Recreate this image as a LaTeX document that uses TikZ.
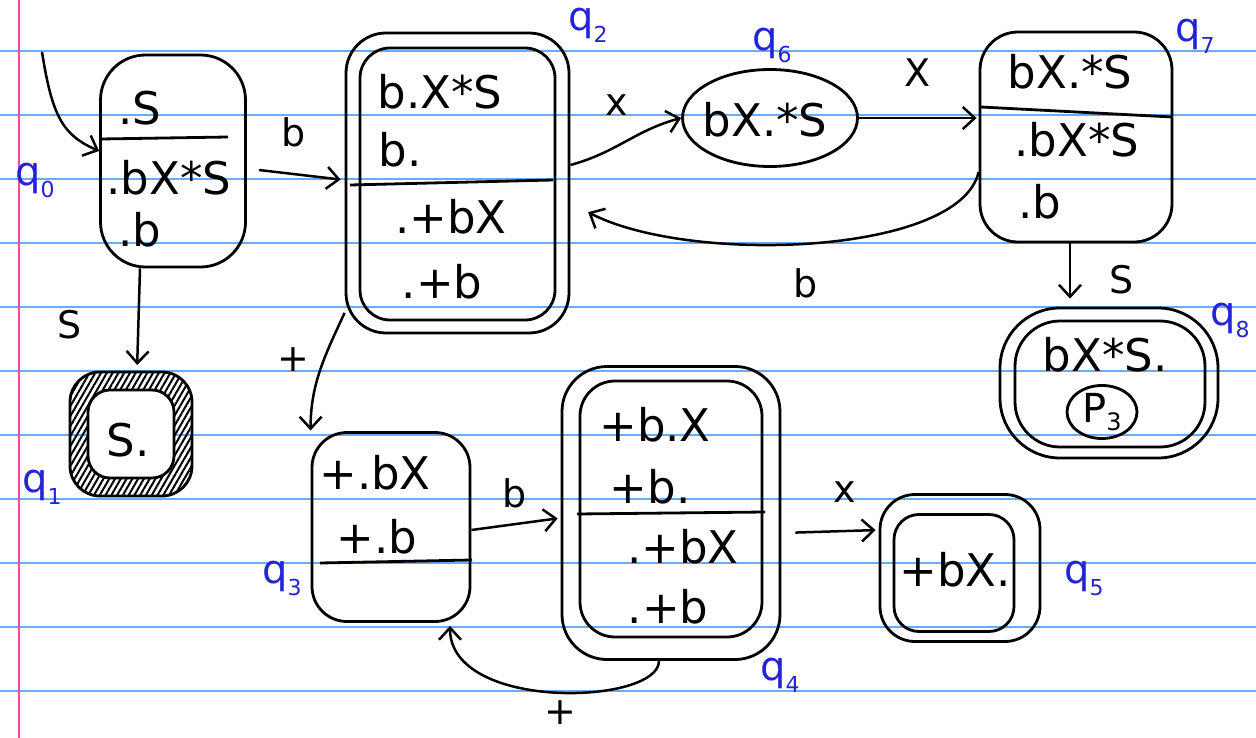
\documentclass[tikz,border=0pt]{standalone}
\usepackage{fontspec}
\setmainfont{DejaVu Sans}
\usetikzlibrary{arrows.meta,shapes.geometric,patterns.meta}
\definecolor{rulecol}{RGB}{110,170,240}
\definecolor{margincol}{RGB}{240,70,170}
\definecolor{ink}{RGB}{35,35,215}
\newcommand{\qlab}[1]{{\fontsize{40}{40}\selectfont q}\raisebox{-12pt}{\fontsize{22}{22}\selectfont #1}}
\tikzset{
  state/.style={draw, line width=2.8pt, inner sep=0pt, rounded corners=#1},
  state/.default=30pt,
  item/.style={font=\fontsize{45}{45}\selectfont, inner sep=0pt},
  lab/.style={text=ink, inner sep=0pt},
  arr/.style={line width=2.5pt, -{Straight Barb[length=12pt,width=22pt,line width=2.5pt]}},
  elab/.style={font=\fontsize{38}{38}\selectfont, inner sep=0pt},
  divider/.style={line width=2.8pt}
}
\begin{document}
\begin{tikzpicture}[x=1pt,y=-1pt]
\useasboundingbox (0,0) rectangle (1256,738);
\fill[white] (0,0) rectangle (1256,738);
% paper rules
\foreach \k in {0,...,10}{
  \draw[rulecol, line width=1.3pt] (0,51+64*\k) -- (1256,51+64*\k);
}
\draw[margincol, line width=2pt] (19,0) -- (19,738);

% q0
\node[state=45pt, minimum width=145pt, minimum height=212pt] (q0) at (173,161) {};
\draw[divider] (101,139) -- (228,137);
\node[item] (q0a) at (140,108) {.S};
\node[item] (q0b) at (169,178) {.bX*S};
\node[item] (q0c) at (140,230) {.b};
\coordinate (start) at (42,52);
\draw[arr] (start) .. controls (52,115) and (62,135) .. ([yshift=10pt]q0.west);
\node[lab] (l0) at (35,180) {\qlab{0}};

% q1
\node[state=30pt, minimum width=122pt, minimum height=124pt,
      pattern={Lines[angle=60,distance=5pt,line width=2pt]}] (q1) at (131,434) {};
\node[state=22pt, minimum width=86pt, minimum height=88pt, fill=white] (q1i) at (131,434) {};
\node[item] (q1a) at (128,440) {S.};
\node[lab] (l1) at (42,487) {\qlab{1}};

% q2
\node[state=40pt, minimum width=223pt, minimum height=300pt] (q2) at (457.5,183) {};
\node[state=30pt, minimum width=195pt, minimum height=272pt] (q2i) at (457.5,184) {};
\draw[divider] (350,185) -- (553,180);
\node[item] (q2a) at (440,92) {b.X*S};
\node[item] (q2b) at (400,150) {b.};
\node[item] (q2c) at (451,217) {.+bX};
\node[item] (q2d) at (442,282) {.+b};
\node[lab] (l2) at (588,25) {\qlab{2}};

% q6
\node[draw, line width=2.8pt, ellipse, minimum width=175pt, minimum height=97pt, inner sep=0pt] (q6) at (770,118) {};
\node[item] (q6a) at (765,120) {bX.*S};
\node[lab] (l6) at (772,45) {\qlab{6}};

% q7
\node[state=38pt, minimum width=192pt, minimum height=210pt] (q7) at (1076,137) {};
\draw[divider] (981,107) -- (1172,117);
\node[item] (q7a) at (1070,72) {bX.*S};
\node[item] (q7b) at (1077,140) {.bX*S};
\node[item] (q7c) at (1040,202) {.b};
\node[lab] (l7) at (1195,36) {\qlab{7}};

% q8
\node[state=60pt, minimum width=218pt, minimum height=150pt] (q8) at (1109,383) {};
\node[state=45pt, minimum width=190pt, minimum height=126pt] (q8i) at (1110,384) {};
\node[item] (q8a) at (1105,355) {bX*S.};
\node[draw, line width=2.8pt, ellipse, minimum width=70pt, minimum height=50pt, inner sep=0pt,
      font=\fontsize{40}{40}\selectfont] (p3) at (1102,412) {P\raisebox{-8pt}{\fontsize{24}{24}\selectfont 3}};
\node[lab] (l8) at (1230,320) {\qlab{8}};

% q3
\node[state=35pt, minimum width=158pt, minimum height=189pt] (q3) at (391,527) {};
\draw[divider] (320,563) -- (472,560);
\node[item] (q3a) at (375,473) {+.bX};
\node[item] (q3b) at (377,537) {+.b};
\node[lab] (l3) at (282,578) {\qlab{3}};

% q4
\node[state=45pt, minimum width=218pt, minimum height=293pt] (q4) at (671,513) {};
\node[state=35pt, minimum width=182pt, minimum height=256pt] (q4i) at (671,509) {};
\draw[divider] (577,514) -- (765,512);
\node[item] (q4a) at (655,425) {+b.X};
\node[item] (q4b) at (650,487) {+b.};
\node[item] (q4c) at (683,547) {.+bX};
\node[item] (q4d) at (668,607) {.+b};
\node[lab] (l4) at (780,675) {\qlab{4}};

% q5
\node[state=35pt, minimum width=160pt, minimum height=147pt] (q5) at (960,568) {};
\node[state=25pt, minimum width=120pt, minimum height=117pt] (q5i) at (954,573) {};
\node[item] (q5a) at (955,570) {+bX.};
\node[lab] (l5) at (1084,578) {\qlab{5}};

% transitions
\draw[arr, shorten >=4pt] ([xshift=12pt,yshift=-9pt]q0.east) -- ([yshift=3pt]q2.west);
\node[elab] (e02) at (294,132) {b};
\draw[arr, shorten >=6pt] ([xshift=-33pt]q0.south) -- ([xshift=6pt]q1.north);
\node[elab] (e01) at (70,325) {S};
\draw[arr] ([yshift=18pt]q2.east) to[out=15,in=195] (q6.west);
\node[elab] (e26) at (617,105) {x};
\draw[arr, shorten >=2pt] (q6.east) -- (q6.east -| q7.west);
\node[elab] (e67) at (918,73) {X};
\draw[arr, shorten >=20pt] ([yshift=-35pt]q7.west) .. controls (960,255) and (690,265) .. ([yshift=-20pt]q2.east);
\node[elab] (e72) at (806,283) {b};
\draw[arr, shorten >=8pt] ([xshift=-6pt]q7.south) -- ([xshift=-6pt]q7.south |- q8.north);
\node[elab] (e78) at (1122,280) {S};
\draw[arr, shorten >=4pt] (q2.229) to[out=245,in=90] (q3.131);
\node[elab] (e23) at (293,360) {+};
\draw[arr, shorten >=3pt] ([yshift=-3pt]q3.east) -- ([yshift=-5pt]q4.west);
\node[elab] (e34) at (515,493) {b};
\draw[arr, shorten >=3pt] ([xshift=-12pt]q4.south) .. controls (659,705) and (450,712) .. ([xshift=59pt]q3.south);
\node[elab] (e43) at (560,713) {+};
\draw[arr, shorten <=14pt, shorten >=3pt] ([yshift=-20pt]q4.east) -- ([yshift=38pt]q5.west);
\node[elab] (e45) at (845,492) {x};
\end{tikzpicture}
\end{document}
